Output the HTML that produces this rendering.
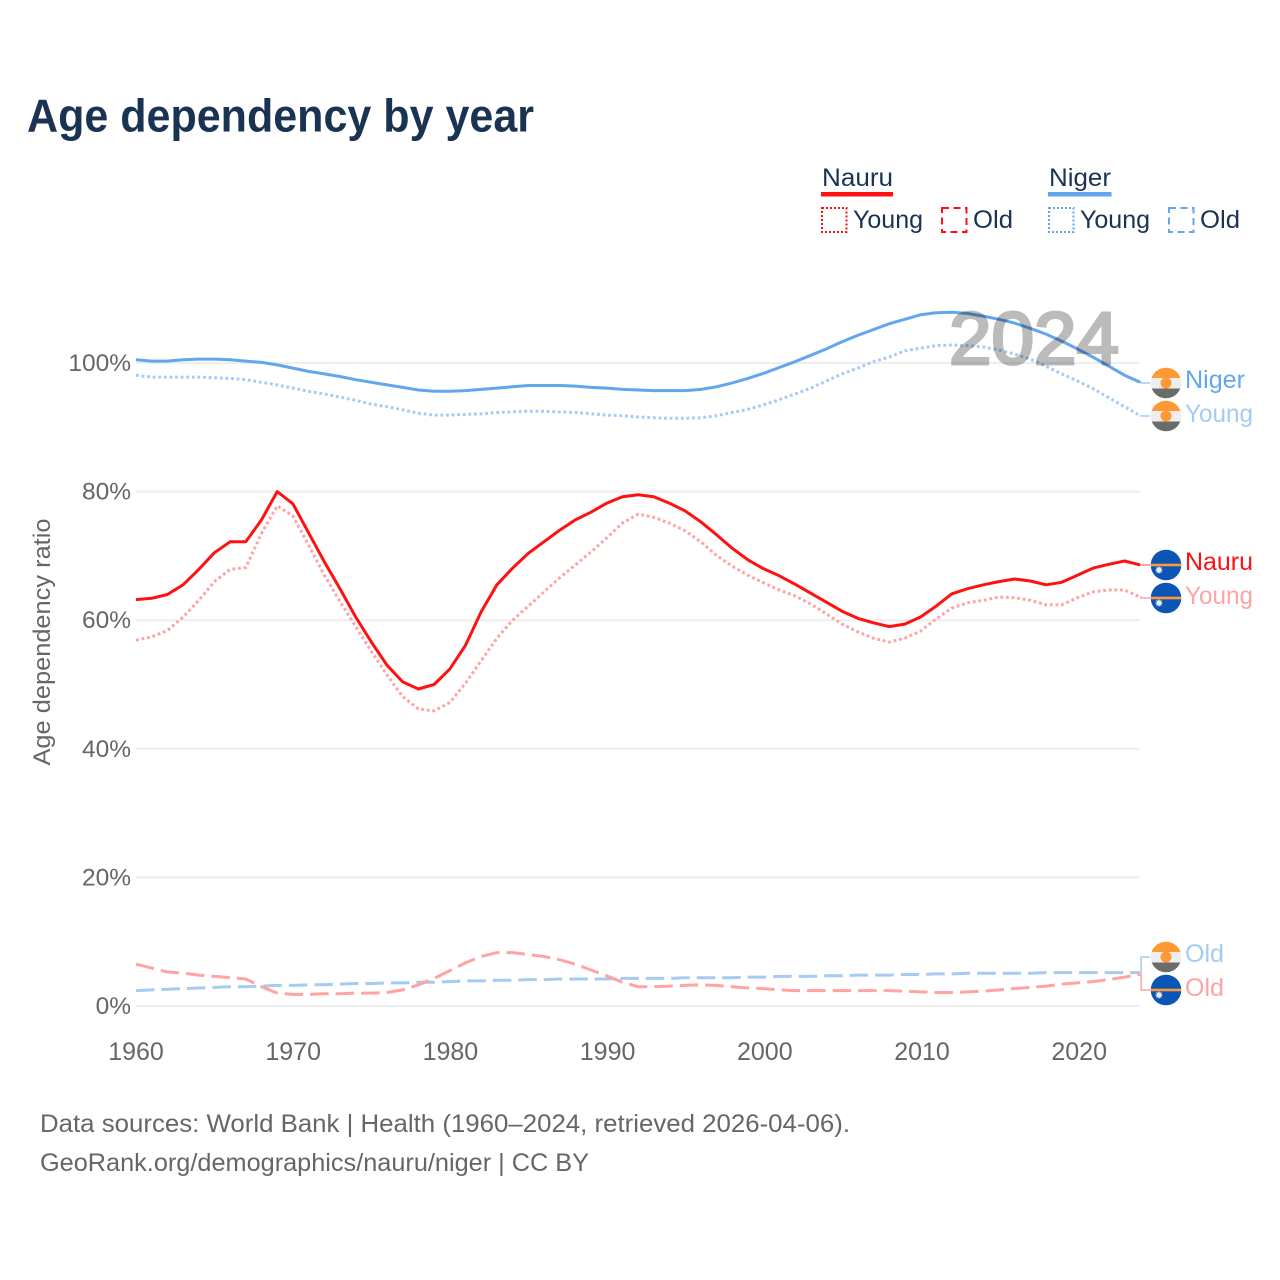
<!DOCTYPE html>
<html lang="en">
<head>
<meta charset="utf-8">
<title>Age dependency by year</title>
<style>
html,body{margin:0;padding:0;background:#fff;width:1280px;height:1280px;overflow:hidden}
svg{display:block}
text{font-family:"Liberation Sans",sans-serif}
</style>
</head>
<body>
<svg id="chart" xmlns="http://www.w3.org/2000/svg" width="1280" height="1280" viewBox="0 0 1280 1280">
  <defs>
    <clipPath id="flag-clip"><circle cx="0" cy="0" r="15.3"/></clipPath>
    <g id="flag-niger">
      <g clip-path="url(#flag-clip)">
        <rect x="-16" y="-16" width="32" height="11" fill="#ff9933"/>
        <rect x="-16" y="-5" width="32" height="10.5" fill="#eeeeee"/>
        <rect x="-16" y="5.5" width="32" height="11" fill="#6a6d67"/>
        <circle cx="0" cy="0" r="5.5" fill="#ff9933"/>
      </g>
    </g>
    <g id="flag-nauru">
      <g clip-path="url(#flag-clip)">
        <rect x="-16" y="-16" width="32" height="32" fill="#0b56b4"/>
        <rect x="-16" y="-1.3" width="32" height="2.6" fill="#ff9933"/>
        <polygon transform="translate(-7,5)" fill="#e8eef6" points="4,0 2.2,.92 2.83,2.83 .92,2.2 0,4 -.92,2.2 -2.83,2.83 -2.2,.92 -4,0 -2.2,-.92 -2.83,-2.83 -.92,-2.2 0,-4 .92,-2.2 2.83,-2.83 2.2,-.92"/>
      </g>
    </g>
  </defs>

  <text x="27" y="131.5" font-size="46" font-weight="700" fill="#1a3352" textLength="507" lengthAdjust="spacingAndGlyphs">Age dependency by year</text>

  <g>
    <text x="822" y="186" font-size="25" fill="#1a3352" textLength="71" lengthAdjust="spacingAndGlyphs">Nauru</text>
    <rect x="821" y="192" width="72" height="4.5" fill="#ff1111"/>
    <rect x="822" y="208" width="24.5" height="24" fill="none" stroke="#ff1111" stroke-width="2" stroke-dasharray="2 2"/>
    <text x="853" y="228" font-size="25" fill="#1a3352" textLength="70" lengthAdjust="spacingAndGlyphs">Young</text>
    <rect x="942" y="208" width="24.5" height="24" fill="none" stroke="#ff1111" stroke-width="2" stroke-dasharray="7 4.5"/>
    <text x="973" y="228" font-size="25" fill="#1a3352" textLength="40" lengthAdjust="spacingAndGlyphs">Old</text>

    <text x="1049" y="186" font-size="25" fill="#1a3352" textLength="62" lengthAdjust="spacingAndGlyphs">Niger</text>
    <rect x="1048" y="192" width="63.5" height="4.5" fill="#62a6ee"/>
    <rect x="1049" y="208" width="24.5" height="24" fill="none" stroke="#62a6ee" stroke-width="2" stroke-dasharray="2 2"/>
    <text x="1080" y="228" font-size="25" fill="#1a3352" textLength="70" lengthAdjust="spacingAndGlyphs">Young</text>
    <rect x="1169" y="208" width="24.5" height="24" fill="none" stroke="#62a6ee" stroke-width="2" stroke-dasharray="7 4.5"/>
    <text x="1200" y="228" font-size="25" fill="#1a3352" textLength="40" lengthAdjust="spacingAndGlyphs">Old</text>
  </g>

  <g id="grid"></g>
  <g id="y-ticks"></g>
  <g id="x-ticks"></g>
  <text transform="translate(50,642) rotate(-90)" text-anchor="middle" font-size="24.5" fill="#666666" textLength="247" lengthAdjust="spacingAndGlyphs">Age dependency ratio</text>

  <g id="series"></g>

  <text x="949" y="364" font-size="74" fill="#bbbbbb" stroke="#bbbbbb" stroke-width="3" textLength="170" lengthAdjust="spacingAndGlyphs" style="mix-blend-mode:multiply">2024</text>

  <g id="connectors"></g>

  <use href="#flag-niger" x="1166" y="383"/>
  <use href="#flag-niger" x="1166" y="416"/>
  <use href="#flag-nauru" x="1166" y="565"/>
  <use href="#flag-nauru" x="1166" y="598"/>
  <use href="#flag-niger" x="1166" y="957"/>
  <use href="#flag-nauru" x="1166" y="990"/>

  <text x="1185" y="388" font-size="25" fill="#62a6ee" textLength="60" lengthAdjust="spacingAndGlyphs">Niger</text>
  <text x="1185" y="422" font-size="25" fill="#a6cbf3" textLength="68" lengthAdjust="spacingAndGlyphs">Young</text>
  <text x="1185" y="570" font-size="25" fill="#ff1111" textLength="68" lengthAdjust="spacingAndGlyphs">Nauru</text>
  <text x="1185" y="604" font-size="25" fill="#ffa3a3" textLength="68" lengthAdjust="spacingAndGlyphs">Young</text>
  <text x="1185" y="962" font-size="25" fill="#a6cbf3" textLength="39" lengthAdjust="spacingAndGlyphs">Old</text>
  <text x="1185" y="996" font-size="25" fill="#ffa3a3" textLength="39" lengthAdjust="spacingAndGlyphs">Old</text>

  <text x="40" y="1132" font-size="25" fill="#666666" textLength="810" lengthAdjust="spacingAndGlyphs">Data sources: World Bank | Health (1960–2024, retrieved 2026-04-06).</text>
  <text x="40" y="1171" font-size="25" fill="#666666" textLength="549" lengthAdjust="spacingAndGlyphs">GeoRank.org/demographics/nauru/niger | CC BY</text>
</svg>
<script>
const firstYear = 1960;
const yTickValues = [0, 20, 40, 60, 80, 100];
const xTickValues = [1960, 1970, 1980, 1990, 2000, 2010, 2020];

const nauruTotal = [63.2,63.4,64.0,65.5,67.9,70.5,72.2,72.2,75.6,80.0,78.1,73.6,69.1,64.9,60.5,56.6,53.0,50.4,49.3,50.0,52.4,56.1,61.3,65.5,68.1,70.4,72.2,74.0,75.6,76.8,78.2,79.2,79.5,79.2,78.2,77.0,75.3,73.3,71.2,69.4,68.0,66.9,65.6,64.2,62.8,61.4,60.3,59.6,59.0,59.4,60.5,62.2,64.1,64.9,65.5,66.0,66.4,66.1,65.5,65.9,67.0,68.1,68.7,69.2,68.6];
const nauruYoung = [56.9,57.4,58.4,60.5,63.1,66.0,67.9,68.2,73.5,77.8,76.2,71.7,67.0,62.9,59.0,55.1,51.5,48.1,46.2,45.9,47.2,50.2,53.7,57.2,60.0,62.2,64.4,66.6,68.6,70.6,72.8,75.1,76.5,76.0,75.1,73.9,72.2,70.1,68.4,67.0,65.8,64.7,63.8,62.5,61.0,59.4,58.2,57.2,56.6,57.2,58.3,60.2,61.9,62.7,63.1,63.6,63.5,63.1,62.4,62.4,63.5,64.4,64.7,64.7,63.6];
const nauruOld = [6.5,5.9,5.3,5.1,4.8,4.6,4.4,4.2,3.0,2.0,1.8,1.8,1.9,1.9,2.0,2.0,2.1,2.5,3.3,4.3,5.5,6.7,7.7,8.3,8.3,8.0,7.7,7.2,6.5,5.6,4.7,3.7,3.0,3.0,3.1,3.2,3.3,3.2,3.0,2.8,2.7,2.5,2.4,2.4,2.4,2.4,2.4,2.4,2.4,2.3,2.2,2.1,2.1,2.2,2.3,2.5,2.7,2.9,3.1,3.4,3.6,3.8,4.1,4.5,4.9];
const nigerTotal = [100.5,100.3,100.3,100.5,100.6,100.6,100.5,100.3,100.1,99.7,99.2,98.7,98.3,97.9,97.4,97.0,96.6,96.2,95.8,95.6,95.6,95.7,95.9,96.1,96.3,96.5,96.5,96.5,96.4,96.2,96.1,95.9,95.8,95.7,95.7,95.7,95.9,96.3,96.9,97.6,98.4,99.3,100.2,101.2,102.2,103.3,104.3,105.2,106.1,106.8,107.5,107.8,107.9,107.7,107.3,106.8,106.2,105.4,104.5,103.4,102.2,100.9,99.5,98.1,97.0];
const nigerYoung = [98.1,97.8,97.8,97.8,97.8,97.7,97.6,97.4,97.0,96.6,96.1,95.6,95.2,94.7,94.2,93.6,93.2,92.7,92.2,91.9,91.9,92.0,92.1,92.3,92.4,92.5,92.5,92.4,92.3,92.1,91.9,91.8,91.6,91.5,91.4,91.4,91.5,91.8,92.3,92.8,93.5,94.3,95.2,96.1,97.2,98.3,99.2,100.2,100.9,101.9,102.3,102.7,102.8,102.7,102.5,102.0,101.4,100.6,99.5,98.3,97.2,96.0,94.6,93.2,91.8];
const nigerOld = [2.4,2.5,2.6,2.7,2.8,2.9,3.0,3.0,3.1,3.2,3.2,3.3,3.3,3.4,3.5,3.5,3.6,3.6,3.7,3.7,3.8,3.9,3.9,4.0,4.0,4.1,4.1,4.2,4.2,4.2,4.2,4.3,4.3,4.3,4.3,4.4,4.4,4.4,4.4,4.5,4.5,4.6,4.6,4.6,4.7,4.7,4.8,4.8,4.8,4.9,4.9,5.0,5.0,5.1,5.1,5.1,5.1,5.1,5.2,5.2,5.2,5.2,5.2,5.2,5.2];

const NS = 'http://www.w3.org/2000/svg';
function xScale(year) { return 136 + (year - 1960) * 15.69; }
function yScale(value) { return 1006 - value * 6.43; }
function make(tag, attrs, parent) {
  const el = document.createElementNS(NS, tag);
  for (const k in attrs) el.setAttribute(k, attrs[k]);
  parent.appendChild(el);
  return el;
}

const grid = document.getElementById('grid');
const yTicks = document.getElementById('y-ticks');
yTickValues.forEach(function (v) {
  const line = make('line', {x1: 136, x2: 1140, y1: yScale(v), y2: yScale(v), stroke: '#eeeeee', 'stroke-width': 2}, grid);
  
  
  const t = make('text', {x: 131, y: yScale(v) + 8, 'text-anchor': 'end', 'font-size': 24.5, fill: '#666666'}, yTicks);
  t.textContent = v + '%';
  
  
});

const xTicks = document.getElementById('x-ticks');
xTickValues.forEach(function (yr) {
  const t = make('text', {x: xScale(yr) + (yr - 1960) * 0.03, y: 1060, 'text-anchor': 'middle', 'font-size': 25, fill: '#666666'}, xTicks);
  t.textContent = yr;
  
  
});

function pathFor(values) {
  return values.map(function (v, i) {
    return (i ? 'L' : 'M') + xScale(firstYear + i).toFixed(1) + ' ' + yScale(v).toFixed(1);
  }).join('');
}
const seriesGroup = document.getElementById('series');
function drawLine(values, color, dash, width) {
  const p = make('path', {d: pathFor(values), fill: 'none', stroke: color, 'stroke-width': width, 'stroke-linejoin': 'round'}, seriesGroup);
  if (dash) p.setAttribute('stroke-dasharray', dash);
  return p;
}
const lineNigerOld = drawLine(nigerOld, '#a6cbf3', '18.5 7', 3);


const lineNauruOld = drawLine(nauruOld, '#ffa3a3', '18.5 7', 3);


const lineNigerYoung = drawLine(nigerYoung, '#a6cbf3', '2.8 2.8', 3);


const lineNauruYoung = drawLine(nauruYoung, '#ffa3a3', '2.8 2.8', 3);


const lineNigerTotal = drawLine(nigerTotal, '#62a6ee', '', 3);


const lineNauruTotal = drawLine(nauruTotal, '#ff1111', '', 3);



const connectors = document.getElementById('connectors');
function drawConnector(values, labelY, color) {
  const ex = xScale(2024), ey = yScale(values[values.length - 1]);
  return make('path', {d: 'M' + ex + ' ' + ey + 'L' + (ex + 1) + ' ' + ey + 'L' + (ex + 1) + ' ' + labelY + 'L1150 ' + labelY, fill: 'none', stroke: color, 'stroke-width': 1.5}, connectors);
}
const connNigerTotal = drawConnector(nigerTotal, 383, '#a6cbf3');


const connNigerYoung = drawConnector(nigerYoung, 416, '#a6cbf3');


const connNauruTotal = drawConnector(nauruTotal, 565, '#ff8888');


const connNauruYoung = drawConnector(nauruYoung, 598, '#ffa3a3');


const connNigerOld = drawConnector(nigerOld, 957, '#a6cbf3');


const connNauruOld = drawConnector(nauruOld, 990, '#ffa3a3');


</script>
</body>
</html>
